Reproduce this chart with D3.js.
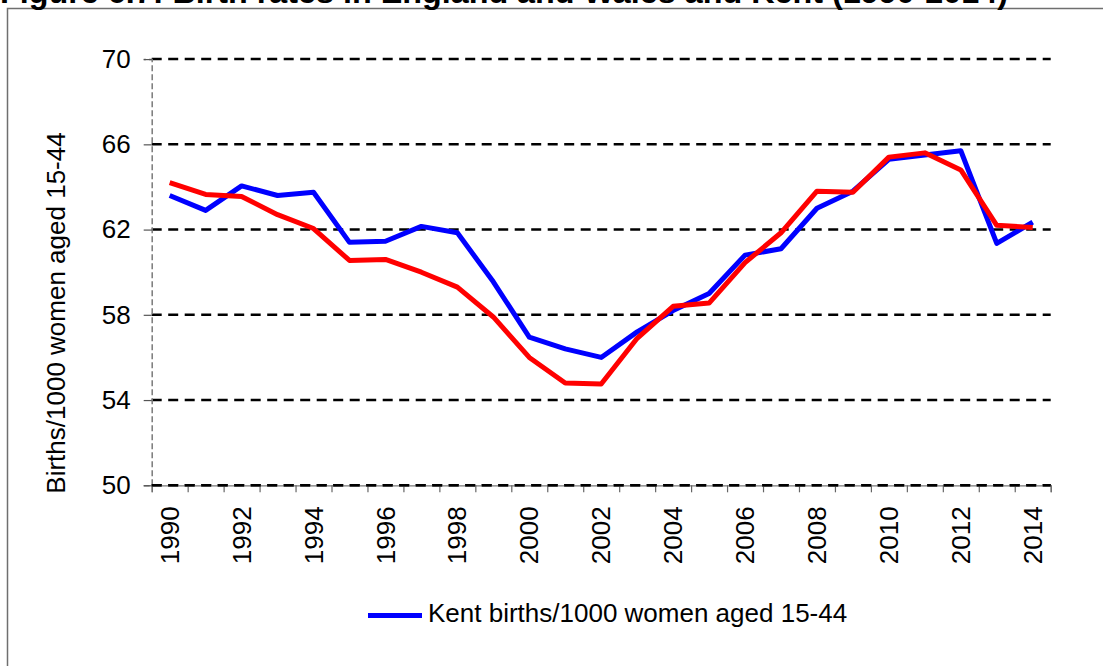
<!DOCTYPE html>
<html>
<head>
<meta charset="utf-8">
<script src="https://cdn.jsdelivr.net/npm/d3@7"></script>
<style>
  html, body { margin: 0; padding: 0; background: #fff; }
  svg { display: block; }
  text { font-family: "Liberation Sans", Arial, sans-serif; fill: #000; }
</style>
</head>
<body>
<svg id="chart" width="1103" height="666"></svg>
<script>
// ---- data ----
const years = ["1990","1991","1992","1993","1994","1995","1996","1997","1998","1999","2000","2001","2002","2003","2004","2005","2006","2007","2008","2009","2010","2011","2012","2013","2014"];
const kentRates = [63.6, 62.9, 64.05, 63.6, 63.75, 61.4, 61.45, 62.15, 61.85, 59.55, 56.95, 56.4, 56.0, 57.2, 58.2, 59.0, 60.8, 61.1, 63.0, 63.8, 65.3, 65.5, 65.7, 61.35, 62.35];
const englandWalesRates = [64.2, 63.65, 63.55, 62.7, 62.05, 60.55, 60.6, 60.0, 59.3, 57.9, 56.0, 54.8, 54.75, 56.9, 58.4, 58.55, 60.45, 61.85, 63.8, 63.75, 65.4, 65.6, 64.8, 62.2, 62.1];
const yTickValues = [50, 54, 58, 62, 66, 70];
const xTickLabels = ["1990","1992","1994","1996","1998","2000","2002","2004","2006","2008","2010","2012","2014"];
const titleText = "Figure 6.7: Birth rates in England and Wales and Kent (1990-2014)";
const yAxisTitle = "Births/1000 women aged 15-44";
const legendLabel = "Kent births/1000 women aged 15-44";

// ---- layout ----
const svg = d3.select("#chart");
const plot = { left: 151.7, right: 1050.7, top: 59.1, bottom: 485.3 };

const x = d3.scaleBand().domain(years).range([plot.left, plot.right]).padding(0);
const xEdge = d3.scaleLinear().domain([0, years.length]).range([plot.left, plot.right]);
const y = d3.scaleLinear().domain([50, 70]).range([plot.bottom, plot.top]);
const cx = d => x(d) + x.bandwidth() / 2;

// outer border
svg.append("rect")
  .attr("x", 7.5).attr("y", 8.5)
  .attr("width", 1200).attr("height", 800)
  .attr("fill", "none").attr("stroke", "#6f6f6f").attr("stroke-width", 1.5);

// title (mostly cut at the top)
svg.append("text")
  .attr("x", 0).attr("y", 3)
  .attr("font-size", 32).attr("font-weight", "bold")
  .attr("textLength", 1008).attr("lengthAdjust", "spacingAndGlyphs")
  .text(titleText);

// gridlines
svg.append("g")
  .selectAll("line")
  .data(yTickValues)
  .join("line")
  .attr("x1", plot.left).attr("x2", plot.right)
  .attr("y1", d => y(d)).attr("y2", d => y(d))
  .attr("stroke", "#000").attr("stroke-width", 2.5)
  .attr("stroke-dasharray", "10,6.5");

// y axis
const yAxis = svg.append("g")
  .attr("transform", `translate(${plot.left},0)`)
  .call(d3.axisLeft(y).tickValues(yTickValues).tickSize(8).tickPadding(13).tickFormat(d3.format("d")));
yAxis.select(".domain").attr("stroke", "#7a7a7a").attr("stroke-width", 1.5).attr("stroke-dasharray", "6,3");
yAxis.selectAll(".tick line").attr("stroke", "#555").attr("stroke-width", 1.2);
yAxis.selectAll(".tick text")
  .attr("font-size", 26).attr("font-family", "Liberation Sans, Arial, sans-serif").attr("fill", "#000");

// x axis boundary ticks
const xAxisTicks = svg.append("g")
  .attr("transform", `translate(0,${plot.bottom})`)
  .call(d3.axisBottom(xEdge).tickValues(d3.range(years.length + 1)).tickSize(7).tickFormat(""));
xAxisTicks.select(".domain").attr("stroke", "#7a7a7a").attr("stroke-width", 1.2);
xAxisTicks.selectAll(".tick line").attr("stroke", "#666").attr("stroke-width", 1.2);

// x tick labels (rotated)
const xLabels = svg.append("g")
  .attr("transform", `translate(0,${plot.bottom})`)
  .call(d3.axisBottom(x).tickValues(xTickLabels).tickSize(0).tickPadding(0));
xLabels.select(".domain").remove();
xLabels.selectAll(".tick text")
  .attr("font-size", 26).attr("font-family", "Liberation Sans, Arial, sans-serif").attr("fill", "#000")
  .attr("text-anchor", "end")
  .attr("transform", "translate(0,21) rotate(-90)")
  .attr("x", 0).attr("y", 0).attr("dy", "0.35em");

// redraw 50 gridline over axis
svg.append("line")
  .attr("x1", plot.left).attr("x2", plot.right)
  .attr("y1", y(50)).attr("y2", y(50))
  .attr("stroke", "#000").attr("stroke-width", 2.5)
  .attr("stroke-dasharray", "10,6.5");

// y axis title
svg.append("text")
  .attr("transform", `translate(65,313) rotate(-90)`)
  .attr("text-anchor", "middle")
  .attr("font-size", 26)
  .text(yAxisTitle);

// lines
const line = d3.line().x((d, i) => cx(years[i])).y(d => y(d));
svg.append("path")
  .datum(kentRates)
  .attr("d", line)
  .attr("fill", "none").attr("stroke", "#0000ff").attr("stroke-width", 5)
  .attr("stroke-linejoin", "round");
svg.append("path")
  .datum(englandWalesRates)
  .attr("d", line)
  .attr("fill", "none").attr("stroke", "#ff0000").attr("stroke-width", 5)
  .attr("stroke-linejoin", "round");

// legend
const legend = svg.append("g");
legend.append("line")
  .attr("x1", 368).attr("x2", 422).attr("y1", 615.5).attr("y2", 615.5)
  .attr("stroke", "#0000ff").attr("stroke-width", 5);
legend.append("text")
  .attr("x", 428).attr("y", 622)
  .attr("font-size", 26)
  .text(legendLabel);
</script>
</body>
</html>
